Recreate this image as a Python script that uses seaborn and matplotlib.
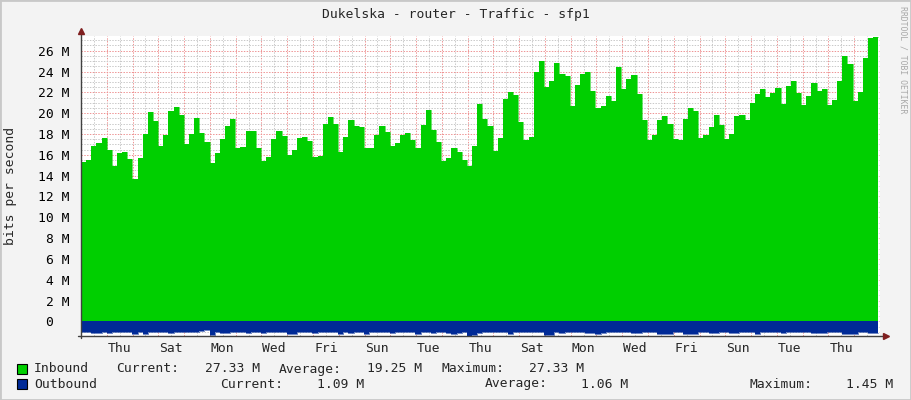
import matplotlib
matplotlib.use("Agg")
import matplotlib.pyplot as plt
from matplotlib.patches import Rectangle
from matplotlib.ticker import MultipleLocator, FixedLocator, FixedFormatter, FuncFormatter
import numpy as np
import pandas as pd
import seaborn as sns

# ---------------------------------------------------------------------------
# data (Mbit/s, one value per consolidated step)
# ---------------------------------------------------------------------------
TITLE = "Dukelska - router - Traffic - sfp1"
Y_LABEL = "bits per second"
WATERMARK = "RRDTOOL / TOBI OETIKER"

STEP_HOURS = 4.79
DAY_LABELS = ["Thu", "Sat", "Mon", "Wed", "Fri", "Sun", "Tue",
              "Thu", "Sat", "Mon", "Wed", "Fri", "Sun", "Tue", "Thu"]

inbound_m = [
    15.34, 15.50, 16.85, 17.10, 17.60, 16.47, 14.96, 16.15, 16.24, 15.60,
    13.68, 15.73, 17.97, 20.08, 19.25, 16.88, 17.90, 20.20, 20.56, 19.83,
    17.04, 17.97, 19.54, 18.10, 17.23, 15.22, 16.18, 17.52, 18.77, 19.44,
    16.65, 16.75, 18.29, 18.29, 16.66, 15.44, 15.79, 17.52, 18.29, 17.81,
    16.02, 16.47, 17.62, 17.68, 17.33, 15.82, 15.92, 18.99, 19.63, 18.99,
    16.30, 17.71, 19.35, 18.77, 18.67, 16.66, 16.66, 17.90, 18.77, 18.20,
    16.88, 17.14, 17.90, 18.07, 17.43, 16.66, 18.84, 20.30, 18.39, 17.26,
    15.44, 15.73, 16.66, 16.27, 15.50, 14.93, 16.85, 20.88, 19.44, 18.77,
    16.40, 17.62, 21.36, 22.04, 21.75, 19.19, 17.43, 17.68, 23.96, 25.01,
    22.55, 23.09, 24.82, 23.76, 23.57, 20.69, 22.71, 23.76, 23.96, 22.13,
    20.50, 20.69, 21.65, 21.17, 24.44, 22.32, 23.28, 23.67, 21.84, 19.35,
    17.43, 17.90, 19.35, 19.73, 18.96, 17.52, 17.43, 19.44, 20.50, 20.21,
    17.62, 17.90, 18.67, 19.83, 18.87, 17.55, 18.00, 19.73, 19.83, 19.35,
    21.01, 21.84, 22.29, 21.56, 21.97, 22.42, 20.91, 22.61, 23.09, 21.97,
    20.79, 21.65, 22.90, 22.13, 22.32, 20.79, 21.27, 23.09, 25.49, 24.72,
    21.20, 22.04, 25.30, 27.20, 27.33,
]

outbound_m = [
    0.98, 1.00, 1.15, 1.13, 1.00, 1.10, 0.99, 0.97, 1.01, 1.00,
    1.25, 1.02, 1.20, 0.99, 0.98, 1.00, 1.03, 1.10, 0.99, 0.97,
    1.00, 1.02, 0.98, 0.96, 0.85, 1.30, 1.01, 1.15, 1.13, 0.99,
    0.98, 1.00, 1.08, 1.01, 0.97, 1.08, 1.00, 0.99, 1.02, 0.98,
    1.25, 1.23, 1.01, 0.99, 0.98, 1.10, 1.00, 0.97, 1.01, 0.99,
    1.18, 1.00, 1.10, 0.98, 1.00, 1.18, 1.01, 0.99, 0.97, 1.00,
    1.10, 1.00, 0.98, 1.01, 0.99, 1.23, 1.02, 0.98, 1.10, 1.00,
    0.99, 1.10, 1.16, 1.14, 1.00, 1.35, 1.33, 1.10, 1.00, 0.98,
    1.01, 0.99, 1.00, 1.16, 0.98, 1.06, 1.00, 0.97, 1.01, 0.99,
    1.33, 1.31, 1.00, 1.10, 1.04, 0.99, 0.98, 1.01, 1.10, 1.08,
    1.16, 1.14, 1.00, 0.98, 1.06, 1.00, 0.99, 1.10, 1.10, 1.01,
    0.98, 1.00, 1.18, 1.16, 1.18, 1.00, 0.99, 1.23, 1.21, 1.23,
    1.01, 0.99, 1.10, 1.10, 1.00, 0.98, 1.10, 1.10, 1.00, 0.99,
    1.01, 1.23, 1.00, 0.98, 0.99, 1.01, 1.10, 1.00, 1.06, 0.99,
    0.98, 1.00, 1.10, 1.08, 1.10, 1.01, 0.99, 1.00, 1.23, 1.21,
    1.23, 1.00, 0.98, 1.10, 1.09,
]

# legend statistics (as printed by rrdtool)
in_stats = ["27.33 M", "19.25 M", "27.33 M"]
out_stats = ["1.09 M", "1.06 M", "1.45 M"]

IN_COLOR = "#00CF00"
OUT_COLOR = "#002A97"
BACK = "#F3F3F3"

# ---------------------------------------------------------------------------
# figure
# ---------------------------------------------------------------------------
sns.set_style("white")
plt.rcParams["font.family"] = ["DejaVu Sans Mono", "DejaVu Sans"]
FS = 9.4

fig = plt.figure(figsize=(9.11, 4.0), dpi=100, facecolor=BACK)
ax = fig.add_axes([81 / 911, 64.5 / 400, 799 / 911, 300 / 400])
ax.set_facecolor("white")

n = len(inbound_m)
t = np.arange(n + 1) * STEP_HOURS / 24.0
df = pd.DataFrame({
    "t": t,
    "inbound": inbound_m + inbound_m[-1:],
    "outbound": [-v for v in outbound_m + outbound_m[-1:]],
})

ax.fill_between(df["t"], 0, df["inbound"], step="post", color=IN_COLOR, lw=0, zorder=2)
ax.fill_between(df["t"], 0, df["outbound"], step="post", color=OUT_COLOR, lw=0, zorder=2)
sns.lineplot(data=df, x="t", y="inbound", drawstyle="steps-post", color=IN_COLOR,
             lw=0.4, ax=ax, zorder=2)
sns.lineplot(data=df, x="t", y="outbound", drawstyle="steps-post", color=OUT_COLOR,
             lw=0.4, ax=ax, zorder=2)
ax.set_xlabel("")
ax.set_ylabel("")

ax.set_xlim(0, 31)
ax.set_ylim(-1.35, 27.46)

# grid (dotted, behind the areas)
grid_minor = "#C9C9C9"
grid_major = "#EE9494"
dots = (0, (1.4, 1.4))
ax.xaxis.set_minor_locator(MultipleLocator(0.5))
ax.xaxis.set_major_locator(MultipleLocator(1))
ax.yaxis.set_minor_locator(MultipleLocator(0.5))
ax.yaxis.set_major_locator(MultipleLocator(2))
ax.grid(which="minor", color=grid_minor, lw=0.72, ls=dots, zorder=1)
ax.grid(which="major", color=grid_major, lw=0.72, ls=dots, zorder=1)
ax.set_axisbelow(True)

for s in ax.spines.values():
    s.set_visible(False)

# y tick labels
ax.yaxis.set_major_formatter(FuncFormatter(
    lambda v, p: f"{v:.0f} M" if v > 0.5 else ("0  " if abs(v) < 0.5 else "")))
ax.tick_params(axis="y", which="major", length=3, direction="inout",
               color=grid_major, pad=6.5, labelsize=FS, labelcolor="black")
ax.tick_params(axis="y", which="minor", length=2, direction="inout", color=grid_minor)

# x ticks: grid ticks unlabeled, day names at noon via secondary axis
ax.tick_params(axis="x", which="both", labelbottom=False, length=3, direction="out",
               color="#A0A0A0")
sec = ax.secondary_xaxis("bottom")
sec.xaxis.set_major_locator(FixedLocator(np.arange(len(DAY_LABELS)) * 2 + 1.5))
sec.xaxis.set_major_formatter(FixedFormatter(DAY_LABELS))
sec.tick_params(length=0, pad=5, labelsize=FS)
for s in sec.spines.values():
    s.set_visible(False)

# axis lines with arrows
axis_col = "#404040"
arrow_col = "#7F1F1F"
ax.plot([-0.004, 1.006], [0, 0], transform=ax.transAxes, color=axis_col, lw=1,
        clip_on=False, zorder=5)
ax.plot([0, 0], [-0.008, 1.012], transform=ax.transAxes, color=axis_col, lw=1,
        clip_on=False, zorder=5)
ax.plot([1.008], [0], marker=">", ms=5, color=arrow_col, transform=ax.transAxes,
        clip_on=False, zorder=6)
ax.plot([0], [1.015], marker="^", ms=5, color=arrow_col, transform=ax.transAxes,
        clip_on=False, zorder=6)

# texts
fig.text(455.5 / 911, 1 - 14.5 / 400, TITLE, ha="center", va="center", fontsize=FS)
fig.text(10.5 / 911, 1 - 186 / 400, Y_LABEL, ha="center", va="center", rotation=90,
         fontsize=FS)
fig.text(902.5 / 911, 1 - 60 / 400, WATERMARK, ha="center", va="center", rotation=270,
         fontsize=5.9, color="#A8A8A8")

# legend rows
rows = [
    ("Inbound", IN_COLOR, 369, in_stats, [116, 279, 441], [260, 422, 584]),
    ("Outbound", OUT_COLOR, 384, out_stats, [220, 485, 750], [364, 628, 893]),
]
for name, col, ypx, stats, lab_x, val_x in rows:
    yy = 1 - ypx / 400
    fig.patches.append(Rectangle((17 / 911, 1 - (ypx + 5) / 400), 10 / 911, 10 / 400,
                                 transform=fig.transFigure, facecolor=col,
                                 edgecolor="black", lw=0.8))
    fig.text(34 / 911, yy, name, ha="left", va="center", fontsize=FS)
    for lab, lx, val, vx in zip(["Current:", "Average:", "Maximum:"], lab_x, stats, val_x):
        fig.text(lx / 911, yy, lab, ha="left", va="center", fontsize=FS)
        fig.text(vx / 911, yy, val, ha="right", va="center", fontsize=FS)

# 3d frame like rrdtool
fig.patches.append(Rectangle((0, 0), 1, 1, transform=fig.transFigure, fill=False,
                             edgecolor="#C8C8C8", lw=2))

fig.savefig("out.png", dpi=100, facecolor=BACK)
